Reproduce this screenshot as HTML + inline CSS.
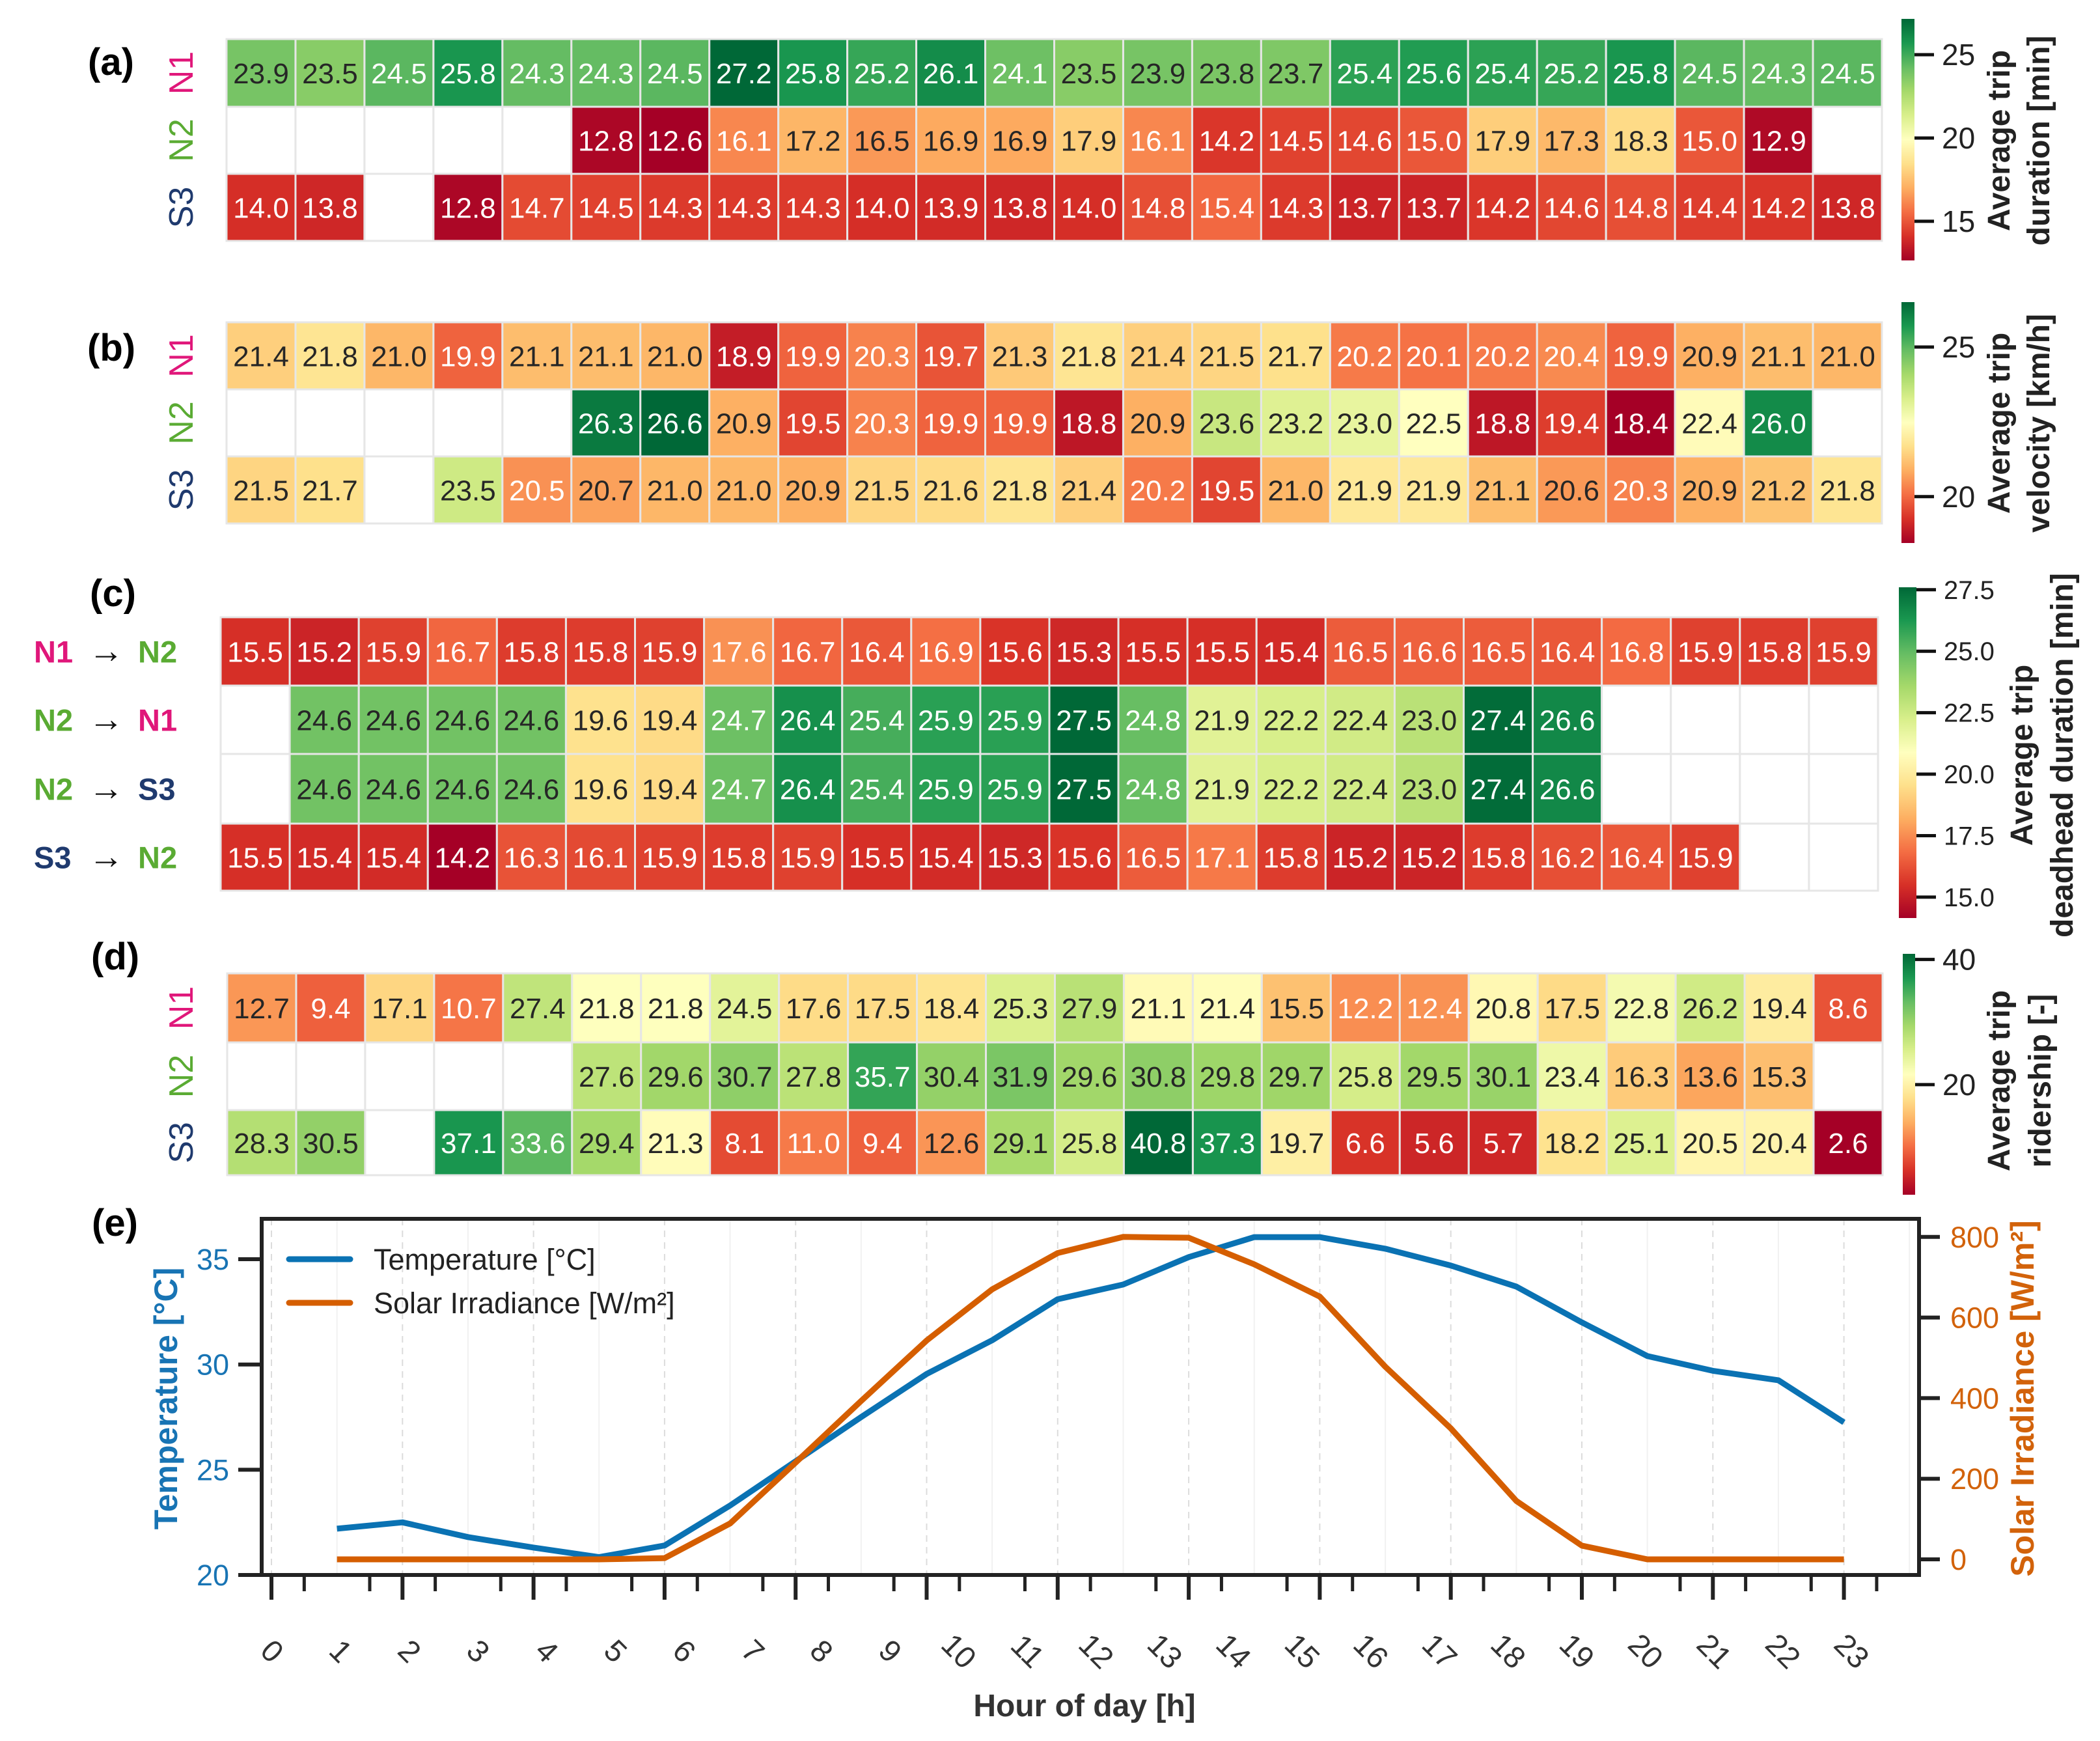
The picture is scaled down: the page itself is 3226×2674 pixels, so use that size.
<!DOCTYPE html>
<html><head><meta charset="utf-8"><style>
html,body{margin:0;padding:0;background:#fff}
svg{display:block;font-family:"Liberation Sans",Arial,sans-serif}
</style></head><body>
<svg id="fig" width="3226" height="2674" viewBox="0 0 3226 2674" xmlns="http://www.w3.org/2000/svg">
<defs>
<linearGradient id="rdylgn" x1="0" y1="1" x2="0" y2="0">
<stop offset="0" stop-color="#a50026"/><stop offset="0.1" stop-color="#d73027"/><stop offset="0.2" stop-color="#f46d43"/><stop offset="0.3" stop-color="#fdae61"/><stop offset="0.4" stop-color="#fee08b"/><stop offset="0.5" stop-color="#ffffbf"/><stop offset="0.6" stop-color="#d9ef8b"/><stop offset="0.7" stop-color="#a6d96a"/><stop offset="0.8" stop-color="#66bd63"/><stop offset="0.9" stop-color="#1a9850"/><stop offset="1" stop-color="#006837"/>
</linearGradient>
</defs>
<g id="root"></g>
</svg>
<script>
const N=null;
const aN1=[23.9,23.5,24.5,25.8,24.3,24.3,24.5,27.2,25.8,25.2,26.1,24.1,23.5,23.9,23.8,23.7,25.4,25.6,25.4,25.2,25.8,24.5,24.3,24.5];
const aN2=[N,N,N,N,N,12.8,12.6,16.1,17.2,16.5,16.9,16.9,17.9,16.1,14.2,14.5,14.6,15.0,17.9,17.3,18.3,15.0,12.9,N];
const aS3=[14.0,13.8,N,12.8,14.7,14.5,14.3,14.3,14.3,14.0,13.9,13.8,14.0,14.8,15.4,14.3,13.7,13.7,14.2,14.6,14.8,14.4,14.2,13.8];
const bN1=[21.4,21.8,21.0,19.9,21.1,21.1,21.0,18.9,19.9,20.3,19.7,21.3,21.8,21.4,21.5,21.7,20.2,20.1,20.2,20.4,19.9,20.9,21.1,21.0];
const bN2=[N,N,N,N,N,26.3,26.6,20.9,19.5,20.3,19.9,19.9,18.8,20.9,23.6,23.2,23.0,22.5,18.8,19.4,18.4,22.4,26.0,N];
const bS3=[21.5,21.7,N,23.5,20.5,20.7,21.0,21.0,20.9,21.5,21.6,21.8,21.4,20.2,19.5,21.0,21.9,21.9,21.1,20.6,20.3,20.9,21.2,21.8];
const cN1N2=[15.5,15.2,15.9,16.7,15.8,15.8,15.9,17.6,16.7,16.4,16.9,15.6,15.3,15.5,15.5,15.4,16.5,16.6,16.5,16.4,16.8,15.9,15.8,15.9];
const cN2N1=[N,24.6,24.6,24.6,24.6,19.6,19.4,24.7,26.4,25.4,25.9,25.9,27.5,24.8,21.9,22.2,22.4,23.0,27.4,26.6,N,N,N,N];
const cN2S3=[N,24.6,24.6,24.6,24.6,19.6,19.4,24.7,26.4,25.4,25.9,25.9,27.5,24.8,21.9,22.2,22.4,23.0,27.4,26.6,N,N,N,N];
const cS3N2=[15.5,15.4,15.4,14.2,16.3,16.1,15.9,15.8,15.9,15.5,15.4,15.3,15.6,16.5,17.1,15.8,15.2,15.2,15.8,16.2,16.4,15.9,N,N];
const dN1=[12.7,9.4,17.1,10.7,27.4,21.8,21.8,24.5,17.6,17.5,18.4,25.3,27.9,21.1,21.4,15.5,12.2,12.4,20.8,17.5,22.8,26.2,19.4,8.6];
const dN2=[N,N,N,N,N,27.6,29.6,30.7,27.8,35.7,30.4,31.9,29.6,30.8,29.8,29.7,25.8,29.5,30.1,23.4,16.3,13.6,15.3,N];
const dS3=[28.3,30.5,N,37.1,33.6,29.4,21.3,8.1,11.0,9.4,12.6,29.1,25.8,40.8,37.3,19.7,6.6,5.6,5.7,18.2,25.1,20.5,20.4,2.6];
const lineHours=[1,2,3,4,5,6,7,8,9,10,11,12,13,14,15,16,17,18,19,20,21,22,23,24];
const temperature=[22.2,22.5,21.8,21.3,20.85,21.4,23.3,25.4,27.5,29.55,31.15,33.1,33.8,35.1,36.05,36.05,35.5,34.7,33.7,32.0,30.4,29.7,29.25,27.25];
const irradiance=[0,0,0,0,0,3,89,240,393,543,670,760,800,798,732,652,478,325,145,34,0,0,0,0];
const hourLabels=["0","1","2","3","4","5","6","7","8","9","10","11","12","13","14","15","16","17","18","19","20","21","22","23"];
const tempTicks=[20,25,30,35];
const irrTicks=[0,200,400,600,800];

const NS="http://www.w3.org/2000/svg";
const root=document.getElementById('root');
function mk(tag,attrs,parent){const e=document.createElementNS(NS,tag);for(const k in attrs)e.setAttribute(k,attrs[k]);(parent||root).appendChild(e);return e;}
const stops=["#a50026","#d73027","#f46d43","#fdae61","#fee08b","#ffffbf","#d9ef8b","#a6d96a","#66bd63","#1a9850","#006837"].map(h=>[parseInt(h.slice(1,3),16),parseInt(h.slice(3,5),16),parseInt(h.slice(5,7),16)]);
function cmap(t){t=Math.max(0,Math.min(1,t));const p=t*10,i=Math.min(9,Math.floor(p)),f=p-i;const a=stops[i],b=stops[i+1];return [0,1,2].map(k=>Math.round(a[k]+(b[k]-a[k])*f));}
function lum(c){const l=c.map(v=>{v/=255;return v<=0.03928?v/12.92:Math.pow((v+0.055)/1.055,2.4)});return 0.2126*l[0]+0.7152*l[1]+0.0722*l[2];}

const PINK="#e0177a",GREEN="#5aab33",NAVY="#1f3a6e";

function heatmap(name,rows,x0,x1,yEdges,vmin,vmax){
  const g=mk('g',{});
  
  
  const cw=(x1-x0)/24;
  rows.forEach((row,r)=>{
    const y=yEdges[r],h=yEdges[r+1]-yEdges[r];
    row.forEach((v,c)=>{
      const x=x0+c*cw;
      let fill="#ffffff";let col=null;
      if(v!==null){col=cmap((v-vmin)/(vmax-vmin));fill=`rgb(${col.join(',')})`;}
      const rc=mk('rect',{x:x,y:y,width:cw,height:h,fill:fill,stroke:"#e6e6e6","stroke-width":3},g);
      
      
      if(v!==null){
        const t=mk('text',{x:x+cw/2,y:y+h/2+16,"text-anchor":"middle","font-size":44,fill:lum(col)>0.42?"#262626":"#ffffff"},g);
        
        
        t.textContent=v.toFixed(1);
      }
    });
  });
}
function rowLabels(name,yEdges){
  const labs=[["N1",PINK],["N2",GREEN],["S3",NAVY]];
  labs.forEach((l,i)=>{const cy=(yEdges[i]+yEdges[i+1])/2;
    const t=mk('text',{x:0,y:0,transform:`translate(296,${cy}) rotate(-90)`,"text-anchor":"middle","font-size":52,fill:l[1]});
    
    
    t.textContent=l[0];});
}
function panelLabel(txt,x,cy){const t=mk('text',{x:x,y:cy+20,"font-size":58,"font-weight":"bold",fill:"#000"});
  
  
  t.textContent=txt;}
function colorbar(name,x,w,top,bot,vmin,vmax,ticks,fmt,titles,titleX,titleCy,fs){
  const g=mk('g',{});
  
  
  mk('rect',{x:x,y:top,width:w,height:bot-top,fill:"url(#rdylgn)"},g);
  ticks.forEach(v=>{const y=bot-(v-vmin)/(vmax-vmin)*(bot-top);
    mk('line',{x1:x+w,x2:x+w+30,y1:y,y2:y,stroke:"#111","stroke-width":5},g);
    const t=mk('text',{x:x+w+42,y:y+fs*0.35,"font-size":fs,fill:"#222"},g);t.textContent=fmt(v);});
  titles.forEach((s,i)=>{const t=mk('text',{x:0,y:0,transform:`translate(${titleX[i]},${titleCy}) rotate(-90)`,"text-anchor":"middle","font-size":48,"font-weight":"bold",fill:"#222"},g);
    
    
    t.textContent=s;});
}

const yA=[60,164,267,370];
heatmap('heatmap-duration',[aN1,aN2,aS3],348,2891,yA,12.6,27.2);
rowLabels('duration',yA);panelLabel('(a)',135,95);
colorbar('colorbar-duration',2921,20,29,400,12.65,27.15,[15,20,25],v=>String(v),["Average trip","duration [min]"],[3087,3148],216,46);
const yB=[495,598,701,804];
heatmap('heatmap-velocity',[bN1,bN2,bS3],348,2891,yB,18.4,26.6);
rowLabels('velocity',yB);panelLabel('(b)',134,534);
colorbar('colorbar-velocity',2921,20,464,834,18.45,26.5,[20,25],v=>String(v),["Average trip","velocity [km/h]"],[3087,3148],650,46);
const yC=[948,1053,1158,1265,1368];
heatmap('heatmap-deadhead',[cN1N2,cN2N1,cN2S3,cS3N2],339,2885,yC,14.2,27.5);
panelLabel('(c)',138,911);
const cl=[[["N1",PINK],["N2",GREEN]],[["N2",GREEN],["N1",PINK]],[["N2",GREEN],["S3",NAVY]],[["S3",NAVY],["N2",GREEN]]];
cl.forEach((p,i)=>{const cy=(yC[i]+yC[i+1])/2+17;
  const g=mk('g',{});
  let t=mk('text',{x:52,y:cy,"font-size":47,"font-weight":"bold",fill:p[0][1]},g);t.textContent=p[0][0];
  t=mk('text',{x:136,y:cy,"font-size":54,fill:"#111"},g);t.textContent="→";
  t=mk('text',{x:212,y:cy,"font-size":47,"font-weight":"bold",fill:p[1][1]},g);t.textContent=p[1][0];});
colorbar('colorbar-deadhead',2917,27,902,1410,14.15,27.6,[15,17.5,20,22.5,25,27.5],v=>v.toFixed(1),["Average trip","deadhead duration [min]"],[3122,3184],1160,40);
const yD=[1495,1601,1705,1805];
heatmap('heatmap-ridership',[dN1,dN2,dS3],349,2892,yD,2.6,40.8);
rowLabels('ridership',yD);panelLabel('(d)',140,1469);
colorbar('colorbar-ridership',2923,19,1465,1835,2.4,40.9,[20,40],v=>String(v),["Average trip","ridership [-]"],[3087,3150],1660,46);

panelLabel('(e)',141,1878);
const PL=402,PR=2948,PT=1872,PB=2419;
const xS=h=>417+h*100.65;
const yT=v=>2419-(v-20)*32.33;
const yI=v=>2395-v*0.619;
const ge=mk('g',{});
for(let h=0;h<=25;h++){const x=xS(h);if(x>PR)break;
  if(h%2===0)mk('line',{x1:x,x2:x,y1:PT,y2:PB,stroke:"#dcdcdc","stroke-width":2,"stroke-dasharray":"10,8"},ge);
  else mk('line',{x1:x,x2:x,y1:PT,y2:PB,stroke:"#f1f1f1","stroke-width":2},ge);}
for(let h=0;h<=24;h+=2){const x=xS(h);mk('line',{x1:x,x2:x,y1:PB,y2:PB+38,stroke:"#222","stroke-width":6},ge);}
for(let h=0.5;h<=24.5;h+=1){const x=xS(h);mk('line',{x1:x,x2:x,y1:PB,y2:PB+25,stroke:"#222","stroke-width":5},ge);}
hourLabels.forEach((s,i)=>{const x=418+i*105.5;
  const t=mk('text',{x:0,y:0,transform:`translate(${x},2536) rotate(45)`,"text-anchor":"middle","font-size":47,fill:"#333",dy:"16"},ge);
  t.textContent=s;});
tempTicks.forEach(v=>{const y=yT(v);mk('line',{x1:PL-36,x2:PL,y1:y,y2:y,stroke:"#222","stroke-width":6},ge);
  const t=mk('text',{x:352,y:y+16,"text-anchor":"end","font-size":45,fill:"#1874b4"},ge);t.textContent=v;});
irrTicks.forEach(v=>{const y=yI(v);mk('line',{x1:PR,x2:PR+32,y1:y,y2:y,stroke:"#222","stroke-width":6},ge);
  const t=mk('text',{x:2996,y:y+16,"font-size":45,fill:"#d2620a"},ge);t.textContent=v;});
const tl=mk('polyline',{points:lineHours.map((h,i)=>xS(h)+','+yT(temperature[i])).join(' '),fill:"none",stroke:"#0a72b3","stroke-width":9,"stroke-linejoin":"round"},ge);

const il=mk('polyline',{points:lineHours.map((h,i)=>xS(h)+','+yI(irradiance[i])).join(' '),fill:"none",stroke:"#d55e00","stroke-width":9,"stroke-linejoin":"round"},ge);

mk('rect',{x:PL,y:PT,width:PR-PL,height:PB-PT,fill:"none",stroke:"#222","stroke-width":6},ge);
const lg=mk('g',{},ge);
mk('line',{x1:444,x2:538,y1:1934,y2:1934,stroke:"#0a72b3","stroke-width":9,"stroke-linecap":"round"},lg);
let t=mk('text',{x:574,y:1950,"font-size":45,fill:"#222"},lg);t.textContent="Temperature [°C]";
mk('line',{x1:444,x2:538,y1:2001,y2:2001,stroke:"#d55e00","stroke-width":9,"stroke-linecap":"round"},lg);
t=mk('text',{x:574,y:2017,"font-size":45,fill:"#222"},lg);t.textContent="Solar Irradiance [W/m²]";
t=mk('text',{x:0,y:0,transform:"translate(272,2148) rotate(-90)","text-anchor":"middle","font-size":50,"font-weight":"bold",fill:"#1874b4"},ge);
t.textContent="Temperature [°C]";
t=mk('text',{x:0,y:0,transform:"translate(3124,2148) rotate(-90)","text-anchor":"middle","font-size":50,"font-weight":"bold",fill:"#d2620a"},ge);
t.textContent="Solar Irradiance [W/m²]";
t=mk('text',{x:1666,y:2636,"text-anchor":"middle","font-size":48,"font-weight":"bold",fill:"#333"},ge);
t.textContent="Hour of day [h]";
</script>
</body></html>
